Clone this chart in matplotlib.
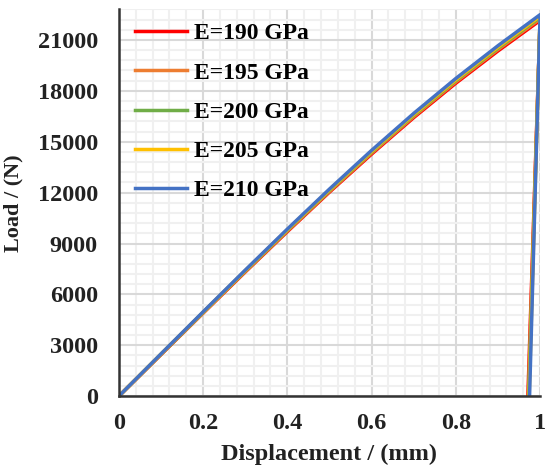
import numpy as np
import matplotlib.pyplot as plt
from matplotlib.ticker import MultipleLocator

plt.rcParams['font.family'] = ['Liberation Serif', 'DejaVu Serif']
plt.rcParams['font.weight'] = 'bold'

# loading branch, displacement in mm
disp = [0, 0.1, 0.2, 0.3, 0.4, 0.5, 0.6, 0.7, 0.8, 0.9, 1.0]
load_190 = [0, 2450, 4895, 7320, 9700, 12030, 14270, 16420, 18450, 20350, 22150]
load_195 = [0, 2465, 4915, 7350, 9740, 12075, 14330, 16485, 18525, 20435, 22240]
load_200 = [0, 2475, 4935, 7380, 9780, 12125, 14390, 16555, 18600, 20515, 22330]
load_205 = [0, 2480, 4950, 7400, 9810, 12160, 14430, 16605, 18655, 20580, 22400]
load_210 = [0, 2490, 4970, 7430, 9850, 12210, 14490, 16670, 18730, 20660, 22490]
# residual displacement after unloading
unload_end = [0.971, 0.972, 0.973, 0.974, 0.975]

labels = ['E=190 GPa', 'E=195 GPa', 'E=200 GPa', 'E=205 GPa', 'E=210 GPa']
colors = ['#FF0000', '#ED7D31', '#70AD47', '#FFC000', '#4472C4']
loads = [load_190, load_195, load_200, load_205, load_210]

fig = plt.figure(figsize=(5.45, 4.7), dpi=100)
ax = fig.add_axes([0.218, 0.157, 0.773, 0.823])

for y, x_end, lab, c in zip(loads, unload_end, labels, colors):
    xs = disp + [x_end]
    ys = y + [0]
    ax.plot(xs, ys, color=c, lw=2.5, label=lab)

ax.set_xlim(0, 1)
ax.set_ylim(0, 22800)
ax.xaxis.set_major_locator(MultipleLocator(0.2))
ax.xaxis.set_minor_locator(MultipleLocator(0.04))
ax.yaxis.set_major_locator(MultipleLocator(3000))
ax.yaxis.set_minor_locator(MultipleLocator(600))
ax.set_xticks([0, 0.2, 0.4, 0.6, 0.8, 1.0])
ax.set_xticklabels(['0', '0.2', '0.4', '0.6', '0.8', '1'])

ax.grid(which='major', color='#D9D9D9', lw=1.5, solid_capstyle='butt')
ax.grid(which='minor', color='#F0F0F0', lw=1.5, solid_capstyle='butt')
ax.set_axisbelow(True)

for s in ['top', 'right']:
    ax.spines[s].set_visible(False)
for s in ['left', 'bottom']:
    ax.spines[s].set_color('#333333')
    ax.spines[s].set_linewidth(1.8)
    ax.spines[s].set_zorder(5)

ax.tick_params(which='both', length=0, width=0, left=False, bottom=False,
               labelsize=17.5, colors='#222222')
ax.tick_params(axis='y', pad=15)
ax.tick_params(axis='x', pad=12)

ax.set_xlabel('Displacement / (mm)', fontsize=17.5, fontweight='bold', color='#222222', labelpad=7)
ax.set_ylabel('Load / (N)', fontsize=16, fontweight='bold', color='#222222', labelpad=10)

ax.legend(loc='upper left', frameon=False, fontsize=17, handlelength=2.2,
          handletextpad=0.3, labelspacing=0.75, borderaxespad=0.3,
          bbox_to_anchor=(0.0, 1.008))

fig.savefig('out.png', dpi=100)
